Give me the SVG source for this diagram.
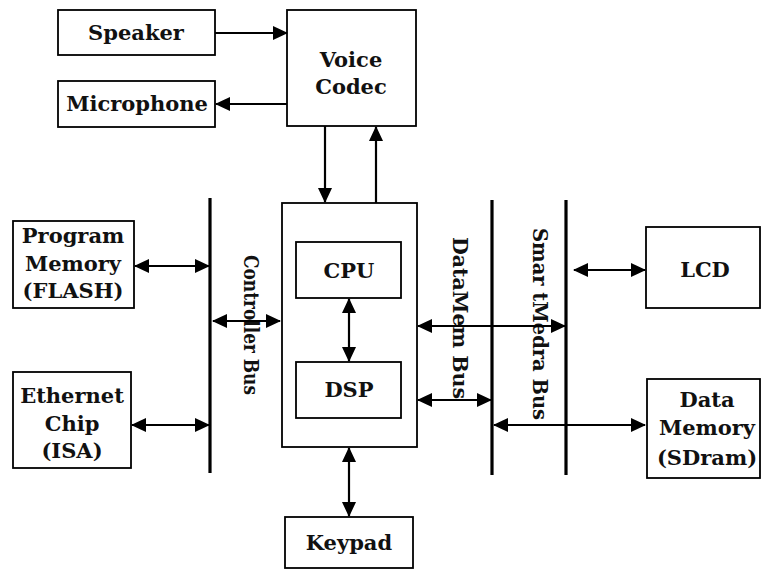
<svg xmlns="http://www.w3.org/2000/svg" width="761" height="571" viewBox="0 0 761 571">
<defs>
<style>
.box{fill:#fff;stroke:#000;stroke-width:1.8}
.bus{stroke:#000;stroke-width:3.2}
.con{stroke:#000;stroke-width:2.2;fill:none}
.t{font-family:"DejaVu Serif","Liberation Serif",serif;font-size:21px;font-weight:bold;fill:#111;text-anchor:middle}
.v{font-family:"DejaVu Serif","Liberation Serif",serif;font-size:20px;font-weight:bold;fill:#111;text-anchor:middle}
</style>
<marker id="ah" markerUnits="userSpaceOnUse" markerWidth="16" markerHeight="14" refX="14" refY="7" orient="auto-start-reverse" viewBox="0 0 16 14">
<path d="M0,0 L15,7 L0,14 Z" fill="#000"/>
</marker>
</defs>
<rect width="761" height="571" fill="#fff"/>

<g id="speaker"><rect class="box" x="58" y="10" width="157" height="45"/><text class="t" x="136" y="40">Speaker</text></g>
<g id="microphone"><rect class="box" x="58" y="81" width="157" height="46"/><text class="t" x="137" y="111">Microphone</text></g>
<g id="voice-codec"><rect class="box" x="287" y="10" width="129" height="116"/><text class="t" x="351" y="67">Voice</text><text class="t" x="351" y="94">Codec</text></g>
<g id="program-memory"><rect class="box" x="13" y="221" width="121" height="87"/><text class="t" x="73" y="243">Program</text><text class="t" x="73" y="271">Memory</text><text class="t" x="73" y="298">(FLASH)</text></g>
<g id="ethernet-chip"><rect class="box" x="13" y="372" width="118" height="96"/><text class="t" x="72" y="403">Ethernet</text><text class="t" x="72" y="431">Chip</text><text class="t" x="72" y="458">(ISA)</text></g>
<g id="processor"><rect class="box" x="282" y="203" width="135" height="244"/></g>
<g id="cpu"><rect class="box" x="296" y="242" width="105" height="56"/><text class="t" x="349" y="278">CPU</text></g>
<g id="dsp"><rect class="box" x="296" y="362" width="105" height="56"/><text class="t" x="349" y="397">DSP</text></g>
<g id="lcd"><rect class="box" x="646" y="227" width="114" height="81"/><text class="t" x="705" y="277">LCD</text></g>
<g id="data-memory"><rect class="box" x="647" y="379" width="113" height="99"/><text class="t" x="707" y="407">Data</text><text class="t" x="707" y="435">Memory</text><text class="t" x="707" y="465">(SDram)</text></g>
<g id="keypad"><rect class="box" x="285" y="517" width="128" height="51"/><text class="t" x="349" y="550">Keypad</text></g>

<g id="controller-bus"><line class="bus" x1="210" y1="198" x2="210" y2="473"/><text class="v" transform="translate(244,325) rotate(90)" x="0" y="0" textLength="140" lengthAdjust="spacingAndGlyphs">Controller Bus</text></g>
<g id="datamem-bus"><line class="bus" x1="492" y1="200" x2="492" y2="475"/><text class="v" transform="translate(453,318) rotate(90)" x="0" y="0" textLength="162" lengthAdjust="spacingAndGlyphs">DataMem Bus</text></g>
<g id="smartmedia-bus"><line class="bus" x1="566" y1="200" x2="566" y2="475"/><text class="v" transform="translate(533,324) rotate(90)" x="0" y="0" textLength="192" lengthAdjust="spacingAndGlyphs">Smar tMedra Bus</text></g>

<g id="connectors">
<line class="con" x1="215" y1="33" x2="287" y2="33" marker-end="url(#ah)"/>
<line class="con" x1="287" y1="104" x2="216" y2="104" marker-end="url(#ah)"/>
<line class="con" x1="325" y1="126" x2="325" y2="202" marker-end="url(#ah)"/>
<line class="con" x1="376" y1="203" x2="376" y2="127" marker-end="url(#ah)"/>
<line class="con" x1="135" y1="266" x2="209" y2="266" marker-start="url(#ah)" marker-end="url(#ah)"/>
<line class="con" x1="132" y1="425" x2="209" y2="425" marker-start="url(#ah)" marker-end="url(#ah)"/>
<line class="con" x1="213" y1="321" x2="280" y2="321" marker-start="url(#ah)" marker-end="url(#ah)"/>
<line class="con" x1="349" y1="299" x2="349" y2="361" marker-start="url(#ah)" marker-end="url(#ah)"/>
<line class="con" x1="418" y1="326" x2="565" y2="326" marker-start="url(#ah)" marker-end="url(#ah)"/>
<line class="con" x1="418" y1="400" x2="491" y2="400" marker-start="url(#ah)" marker-end="url(#ah)"/>
<line class="con" x1="574" y1="270" x2="645" y2="270" marker-start="url(#ah)" marker-end="url(#ah)"/>
<line class="con" x1="494" y1="425" x2="645" y2="425" marker-start="url(#ah)" marker-end="url(#ah)"/>
<line class="con" x1="349" y1="448" x2="349" y2="516" marker-start="url(#ah)" marker-end="url(#ah)"/>
</g>
</svg>
